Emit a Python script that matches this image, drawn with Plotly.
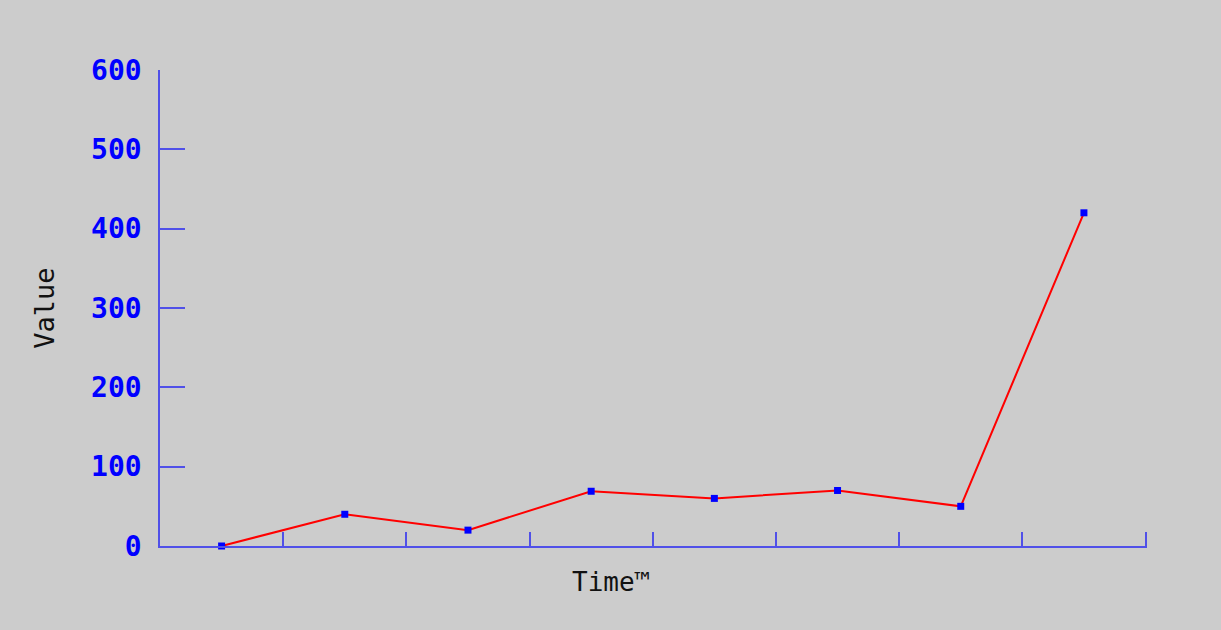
import plotly.graph_objects as go

time_index = [0, 1, 2, 3, 4, 5, 6, 7]
values = [0, 40, 20, 69, 60, 70, 50, 420]
y_ticks = [0, 100, 200, 300, 400, 500, 600]
x_boundaries = [-0.5, 0.5, 1.5, 2.5, 3.5, 4.5, 5.5, 6.5, 7.5]

axis_color = "#5050e8"

fig = go.Figure()
fig.add_trace(go.Scatter(
    x=time_index, y=values, mode="lines+markers",
    line=dict(color="#ff0000", width=2),
    marker=dict(symbol="square", size=7, color="#0000ff"),
    cliponaxis=False,
    showlegend=False,
))

fig.update_layout(
    width=1221, height=630,
    paper_bgcolor="#cccccc", plot_bgcolor="#cccccc",
    margin=dict(l=160, r=74, t=70, b=84),
    xaxis=dict(
        range=[-0.5, 7.512], tickvals=x_boundaries,
        showticklabels=False, showgrid=False, zeroline=False,
        showline=True, linecolor=axis_color, linewidth=1.5,
        ticks="inside", ticklen=14, tickcolor=axis_color, tickwidth=1.5,
    ),
    yaxis=dict(
        range=[0, 600], tickvals=y_ticks,
        showgrid=False, zeroline=False,
        showline=True, linecolor=axis_color, linewidth=1.5,
        ticks="inside", ticklen=25, tickcolor=axis_color, tickwidth=1.5,
        ticklabelstandoff=11,
        tickfont=dict(family="DejaVu Sans Mono", size=28, color="#0000ff", weight="bold"),
        title=dict(text="Value", font=dict(family="DejaVu Sans Mono", size=27, color="#111111"), standoff=29),
    ),
    annotations=[dict(
        text="Time™", xref="paper", yref="paper", x=(610.5 - 160) / 987, y=-36 / 476,
        xanchor="center", yanchor="middle", showarrow=False,
        font=dict(family="DejaVu Sans Mono", size=26, color="#111111"),
    )],
)

fig.write_html(
    "out.html",
    config={"displayModeBar": False},
    post_script="document.body.style.margin='0';document.body.style.background='#cccccc';",
)
